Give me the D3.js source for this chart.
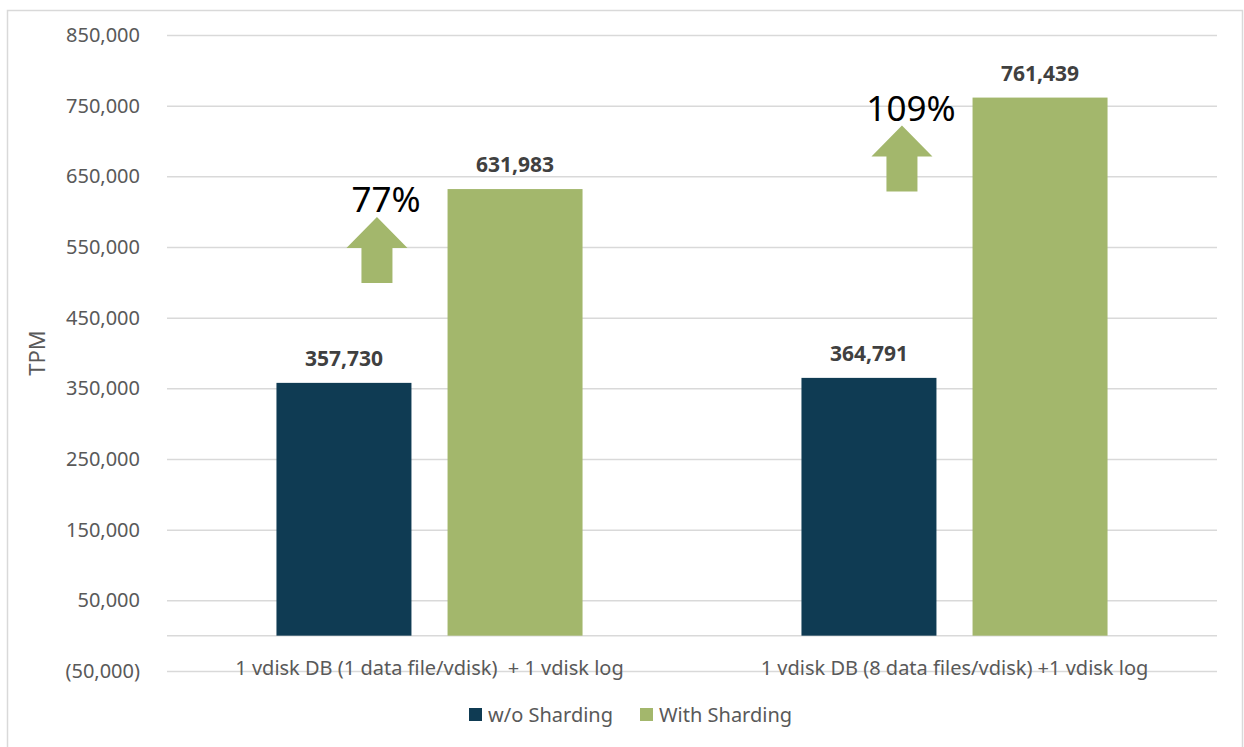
<!DOCTYPE html>
<html>
<head>
<meta charset="utf-8">
<script src="https://cdn.jsdelivr.net/npm/d3@7"></script>
<style>
  html, body { margin: 0; padding: 0; background: #ffffff; }
  svg { display: block; font-family: "Noto Sans", "Open Sans", sans-serif; }
</style>
</head>
<body>
<svg id="chart" width="1244" height="747"></svg>
<script>
// Configurations compared
const categories = [
  "1 vdisk DB (1 data file/vdisk)  + 1 vdisk log",
  "1 vdisk DB (8 data files/vdisk) +1 vdisk log"
];
const seriesNames = ["w/o Sharding", "With Sharding"];
const withoutSharding = [357730, 364791];
const withSharding = [631983, 761439];
const yTicks = [-50000, 50000, 150000, 250000, 350000, 450000, 550000, 650000, 750000, 850000];
const yTitle = "TPM";

const colors = { "w/o Sharding": "#0f3b53", "With Sharding": "#a3b76c" };

const svg = d3.select("#chart");
const plot = { left: 167, right: 1217, top: 35, bottom: 671 };

// Chart frame
svg.append("rect")
  .attr("x", 7.5).attr("y", 10.5)
  .attr("width", 1235).attr("height", 760)
  .attr("fill", "#ffffff").attr("stroke", "#d9d9d9").attr("stroke-width", 1.5);

const y = d3.scaleLinear()
  .domain([yTicks[0], yTicks[yTicks.length - 1]])
  .range([plot.bottom, plot.top]);

const x0 = d3.scaleBand()
  .domain(categories)
  .range([plot.left, plot.right])
  .paddingInner(0.417)
  .paddingOuter(0.2085);

const x1 = d3.scaleBand()
  .domain(seriesNames)
  .range([0, x0.bandwidth()])
  .paddingInner(0.211);

const fmt = d3.format(",");
const tickFmt = v => v < 0 ? "(" + fmt(-v) + ")" : fmt(v);

// Value axis with gridlines
const yAxis = svg.append("g")
  .attr("transform", `translate(${plot.left},0)`)
  .call(d3.axisLeft(y)
    .tickValues(yTicks)
    .tickFormat(tickFmt)
    .tickSizeInner(-(plot.right - plot.left))
    .tickSizeOuter(0)
    .tickPadding(27));
yAxis.select(".domain").remove();
yAxis.selectAll(".tick line").attr("stroke", "#d9d9d9").attr("stroke-width", 1.5);
yAxis.selectAll(".tick text")
  .attr("fill", "#595959")
  .style("font-size", "20px")
  .style("font-family", "'Noto Sans', sans-serif");

// Zero baseline
svg.append("line")
  .attr("x1", plot.left).attr("x2", plot.right)
  .attr("y1", y(0)).attr("y2", y(0))
  .attr("stroke", "#d9d9d9").attr("stroke-width", 1.5);

// Axis title
svg.append("text")
  .attr("transform", `translate(45,${(plot.top + plot.bottom) / 2}) rotate(-90)`)
  .attr("text-anchor", "middle")
  .attr("fill", "#595959")
  .style("font-size", "22px")
  .text(yTitle);

// Bars
const rows = categories.map((c, i) => ({
  category: c,
  values: [
    { series: seriesNames[0], value: withoutSharding[i] },
    { series: seriesNames[1], value: withSharding[i] }
  ]
}));

const groups = svg.append("g").selectAll("g")
  .data(rows)
  .join("g")
  .attr("transform", d => `translate(${x0(d.category)},0)`);

groups.selectAll("rect")
  .data(d => d.values)
  .join("rect")
  .attr("x", d => x1(d.series))
  .attr("width", x1.bandwidth())
  .attr("y", d => y(Math.max(0, d.value)))
  .attr("height", d => Math.abs(y(d.value) - y(0)))
  .attr("fill", d => colors[d.series]);

groups.selectAll("text.val")
  .data(d => d.values)
  .join("text")
  .attr("class", "val")
  .attr("x", d => x1(d.series) + x1.bandwidth() / 2)
  .attr("y", d => y(d.value) - 17)
  .attr("text-anchor", "middle")
  .attr("fill", "#404040")
  .style("font-size", "21px")
  .style("font-weight", "bold")
  .text(d => fmt(d.value));

// Growth arrows with percentage gain
const arrowW = 61, shaftW = 31, headH = 31, arrowH = 66;
groups.each(function (d) {
  const g = d3.select(this);
  const base = d.values[0].value, top = d.values[1].value;
  const gain = top / base - 1;
  const cx = x1(seriesNames[0]) + x1.bandwidth() / 2 + 33;
  const tipY = y(top) + 28;
  const path = d3.path();
  path.moveTo(cx, tipY);
  path.lineTo(cx + arrowW / 2, tipY + headH);
  path.lineTo(cx + shaftW / 2, tipY + headH);
  path.lineTo(cx + shaftW / 2, tipY + arrowH);
  path.lineTo(cx - shaftW / 2, tipY + arrowH);
  path.lineTo(cx - shaftW / 2, tipY + headH);
  path.lineTo(cx - arrowW / 2, tipY + headH);
  path.closePath();
  g.append("path").attr("d", path.toString()).attr("fill", colors[seriesNames[1]]);
  g.append("text")
    .attr("x", cx + 9)
    .attr("y", tipY - 5)
    .attr("text-anchor", "middle")
    .attr("fill", "#000000")
    .style("font-size", "35px")
    .text(d3.format(".0%")(gain));
});

// Category labels
const xAxis = svg.append("g")
  .attr("transform", `translate(0,${y(0)})`)
  .call(d3.axisBottom(x0).tickSize(0).tickPadding(25));
xAxis.select(".domain").remove();
xAxis.selectAll(".tick text")
  .attr("fill", "#595959")
  .style("white-space", "pre")
  .style("font-size", "20px")
  .style("font-family", "'Noto Sans', sans-serif");

// Legend
const legend = svg.append("g").attr("transform", "translate(469,708)");
const legendX = [0, 171];
seriesNames.forEach((s, i) => {
  const item = legend.append("g").attr("transform", `translate(${legendX[i]},0)`);
  item.append("rect").attr("width", 13).attr("height", 13).attr("fill", colors[s]);
  item.append("text")
    .attr("x", 19).attr("y", 14)
    .attr("fill", "#595959")
    .style("font-size", "20px")
    .text(s);
});
</script>
</body>
</html>
